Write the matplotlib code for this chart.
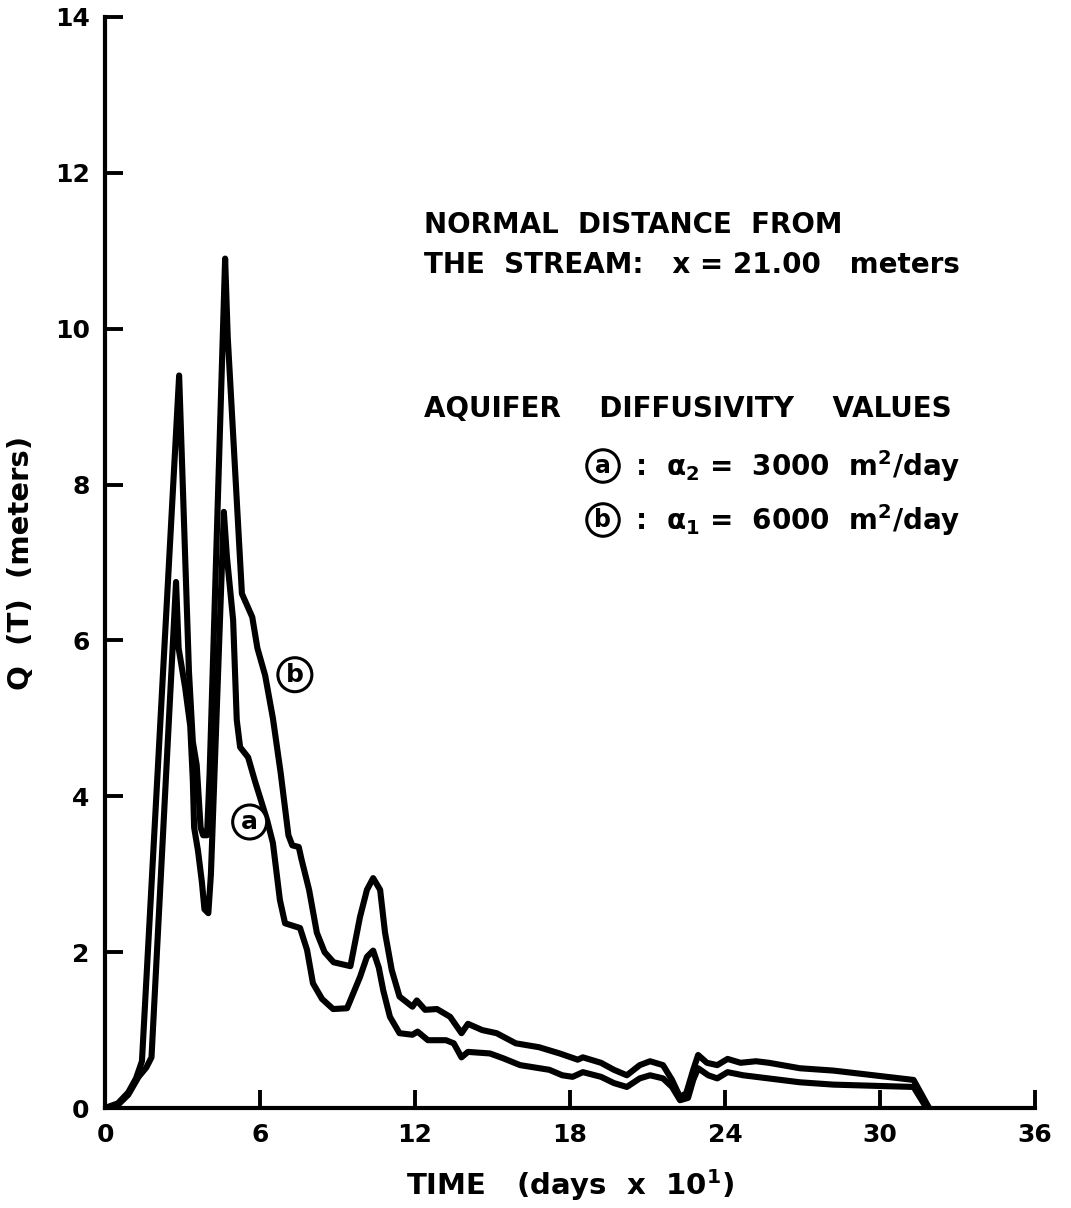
import matplotlib.pyplot as plt

# curve (a): alpha_2 = 3000 m2/day
time_a = [0, 0.5, 0.9, 1.3, 1.6, 1.8, 2.75, 2.85, 3.1, 3.3, 3.4, 3.45, 3.6, 3.75, 3.85, 4.0,
          4.1, 4.6, 4.72, 4.96, 5.1, 5.23, 5.54, 5.8, 6.27, 6.5, 6.77, 6.97, 7.55, 7.82,
          8.05, 8.4, 8.83, 9.37, 9.87, 10.14, 10.38, 10.6, 10.77, 11.03, 11.4, 11.9, 12.1,
          12.5, 13.2, 13.5, 13.8, 14.05, 14.9, 15.4, 16.07, 17.2, 17.7, 18.1, 18.5, 19.2,
          19.7, 20.2, 20.7, 21.1, 21.6, 21.95, 22.26, 22.57, 22.77, 22.96, 23.35, 23.7,
          24.1, 24.7, 26.9, 28.2, 31.3, 31.8]
q_a = [0, 0.04, 0.17, 0.4, 0.52, 0.65, 6.75, 5.9, 5.4, 4.9, 4.2, 3.6, 3.3, 2.9, 2.55, 2.5,
       3.0, 7.65, 7.07, 6.26, 4.98, 4.63, 4.5, 4.2, 3.7, 3.4, 2.67, 2.37, 2.31, 2.03,
       1.6, 1.4, 1.27, 1.28, 1.68, 1.94, 2.02, 1.8, 1.51, 1.17, 0.96, 0.94, 0.98,
       0.87, 0.87, 0.83, 0.65, 0.72, 0.7, 0.64, 0.55, 0.49, 0.42, 0.4, 0.46, 0.4,
       0.32, 0.27, 0.38, 0.42, 0.38, 0.27, 0.1, 0.13, 0.36, 0.51, 0.42, 0.38,
       0.46, 0.42, 0.33, 0.3, 0.27, 0.0]

# curve (b): alpha_1 = 6000 m2/day
time_b = [0, 0.5, 0.9, 1.2, 1.43, 2.87, 3.05, 3.25, 3.4, 3.55, 3.7, 3.8, 3.95, 4.05, 4.65,
          4.75, 5.0, 5.3, 5.5, 5.7, 5.9, 6.2, 6.5, 6.8, 7.1, 7.25, 7.5, 7.6, 7.9, 8.2,
          8.5, 8.85, 9.5, 9.87, 10.14, 10.38, 10.65, 10.84, 11.1, 11.4, 11.9, 12.07, 12.39,
          12.85, 13.36, 13.8, 14.05, 14.6, 15.16, 15.9, 16.8, 17.6, 18.3, 18.5, 19.2,
          19.7, 20.2, 20.7, 21.1, 21.6, 21.95, 22.26, 22.5, 22.77, 22.96, 23.3, 23.7,
          24.1, 24.6, 25.2, 25.7, 26.9, 28.2, 31.3, 31.9]
q_b = [0, 0.06, 0.2, 0.38, 0.6, 9.4, 7.6, 5.6, 4.7, 4.4, 3.6, 3.5, 3.5, 4.3, 10.9,
       9.9, 8.4, 6.6, 6.45, 6.3, 5.9, 5.55, 5.0, 4.3, 3.5, 3.37, 3.35, 3.2, 2.8, 2.25,
       2.0, 1.87, 1.82, 2.45, 2.8, 2.95, 2.8, 2.25, 1.77, 1.43, 1.3, 1.38, 1.26,
       1.27, 1.17, 0.96, 1.08, 1.0, 0.96, 0.83, 0.78, 0.7, 0.62, 0.65, 0.58,
       0.49, 0.42, 0.55, 0.6, 0.55, 0.36, 0.14, 0.19, 0.49, 0.68, 0.58, 0.55,
       0.63, 0.58, 0.6, 0.58, 0.51, 0.48, 0.36, 0.0]

x_ticks = [0, 6, 12, 18, 24, 30, 36]
y_ticks = [0, 2, 4, 6, 8, 10, 12, 14]

W, H = 1071, 1208
fig = plt.figure(figsize=(W / 100, H / 100), dpi=100)
ax = fig.add_axes([105 / W, 1 - 1108 / H, (1035 - 105) / W, (1108 - 17) / H])

for t, q in [(time_a, q_a), (time_b, q_b)]:
    ax.plot(t, q, color="black", lw=4.4, solid_joinstyle="round", solid_capstyle="round")

ax.set_xlim(0, 36)
ax.set_ylim(0, 14)
ax.spines["top"].set_visible(False)
ax.spines["right"].set_visible(False)
for s in ["left", "bottom"]:
    ax.spines[s].set_linewidth(3)
ax.set_xticks(x_ticks)
ax.set_yticks(y_ticks)
ax.tick_params(direction="in", length=13, width=2.8, labelsize=18, pad=11)
for lab in ax.get_xticklabels() + ax.get_yticklabels():
    lab.set_fontweight("bold")

ax.set_xlabel("TIME   (days  x  10$^\\mathbf{1}$)", fontsize=21, fontweight="bold", labelpad=14)
ax.set_ylabel("Q  (T)  (meters)", fontsize=21, fontweight="bold", labelpad=14)

# curve labels
circ = dict(boxstyle="circle,pad=0.2", fc="white", ec="black", lw=2.2)
ax.text(7.35, 5.56, "b", fontsize=18, fontweight="bold", ha="center", va="center", bbox=circ)
ax.text(5.6, 3.67, "a", fontsize=18, fontweight="bold", ha="center", va="center", bbox=circ)

def fx(px):
    return px / W

def fy(py):
    return 1 - py / H

tk = dict(fontsize=20, fontweight="bold", va="center", ha="left")
fig.text(fx(424), fy(225), "NORMAL  DISTANCE  FROM", **tk)
fig.text(fx(424), fy(265), "THE  STREAM:   x = 21.00   meters", **tk)
fig.text(fx(424), fy(409), "AQUIFER    DIFFUSIVITY    VALUES", **tk)

circ2 = dict(boxstyle="circle,pad=0.18", fc="white", ec="black", lw=2.2)
fig.text(fx(603), fy(466), "a", fontsize=17, fontweight="bold", ha="center", va="center", bbox=circ2)
fig.text(fx(603), fy(520), "b", fontsize=17, fontweight="bold", ha="center", va="center", bbox=circ2)
fig.text(fx(626), fy(466), " :  $\\mathbf{\\alpha_2}$ =  3000  m$^\\mathbf{2}$/day", **tk)
fig.text(fx(626), fy(520), " :  $\\mathbf{\\alpha_1}$ =  6000  m$^\\mathbf{2}$/day", **tk)

fig.savefig("out.png", dpi=100)
